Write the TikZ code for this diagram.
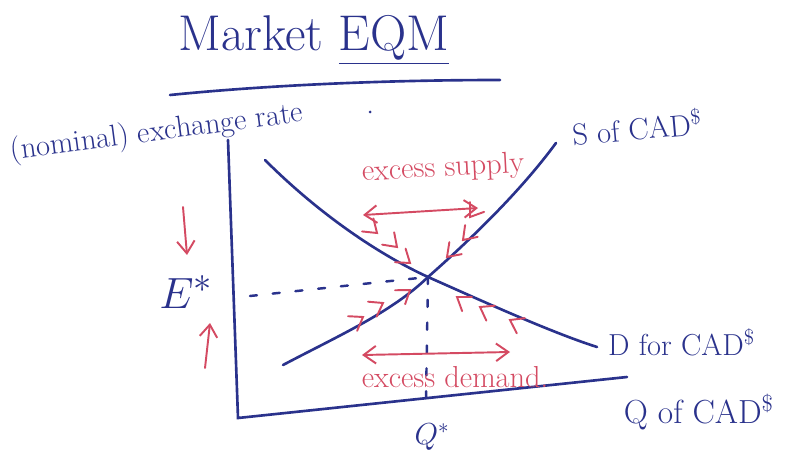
\documentclass[tikz,border=0pt]{standalone}
\usepackage{xcolor}
\usepackage{tikz}
\usetikzlibrary{arrows.meta}
\definecolor{pen}{RGB}{42,50,140}
\definecolor{redpen}{RGB}{212,74,98}

\begin{document}
\begin{tikzpicture}[x=0.02cm,y=-0.02cm,
  >={Straight Barb[length=7pt,width=10pt]},
  ink/.style={pen,line width=1.5pt,line cap=round},
  hint/.style={redpen,line width=1.1pt,line cap=round},
  guide/.style={pen,line width=1.4pt,line cap=round,dash pattern=on 4pt off 9pt},
  lbl/.style={pen,font=\LARGE}]
  \useasboundingbox (0,0) rectangle (801,466);
  % title
  \node[pen,font=\Huge,scale=1.15] (title) at (314,40) {Market \underline{EQM}};
  \draw[ink] (170,95) .. controls (280,84) and (400,80) .. (500,80);
  \fill[pen] (370,112) circle (1.5);
  % axes
  \coordinate (ytop) at (228,140);
  \coordinate (O) at (238,418);
  \coordinate (xend) at (627,377);
  \draw[ink] (ytop) -- (O) -- (xend);
  \node[lbl,rotate=7.5] (ylab) at (157,133) {(nominal) exchange rate};
  \node[lbl,scale=1.1,anchor=west] (xlab) at (617,412) {Q of CAD\textsuperscript{\$}};
  % curves
  \coordinate (eq) at (428,277);
  \coordinate (d0) at (265,160);
  \coordinate (d1) at (597,347);
  \coordinate (s0) at (283,365);
  \coordinate (s1) at (556,143);
  \draw[ink] (d0) .. controls (320,215) and (380,255) .. (eq)
    .. controls (480,300) and (550,332) .. (d1);
  \draw[ink] (s0) .. controls (340,335) and (392,312) .. (eq)
    .. controls (470,240) and (520,192) .. (s1);
  \node[lbl,rotate=5,anchor=west] (slab) at (566,133) {S of CAD\textsuperscript{\$}};
  \node[lbl,anchor=west] (dlab) at (602,342) {D for CAD\textsuperscript{\$}};
  % equilibrium values
  \node[pen,font=\Huge] (estar) at (186,292) {$E^{*}$};
  \node[pen,font=\LARGE] (qstar) at (432,437) {$Q^{*}$};
  \coordinate (eaxis) at (250,296);
  \coordinate (qaxis) at (426,400);
  \draw[guide] (eaxis) -- (eq);
  \draw[guide] (eq) -- (qaxis);
  % excess supply and demand
  \node[redpen,font=\LARGE,rotate=3] (exsup) at (443,169) {excess supply};
  \node[redpen,font=\LARGE] (exdem) at (455,377) {excess demand.};
  \coordinate (sl) at (363,215);
  \coordinate (sr) at (478,208);
  \coordinate (dl) at (362,355);
  \coordinate (dr) at (510,352);
  \draw[hint,<->] (sl) -- (sr);
  \draw[hint,<->] (dl) -- (dr);
  % pressure towards the equilibrium
  \foreach \px/\py/\a in {377/233/41, 397/247/44, 410/263/38,
      470/217/125, 463/240/133, 447/257/134,
      363/317/-32, 383/303/-30, 410/290/-36,
      457/297/-145, 480/307/-150, 510/320/-152}
    \draw[hint] (\px,\py) ++(\a+145:15) -- (\px,\py) -- ++(\a-145:15);
  \coordinate (dn0) at (183,207);
  \coordinate (dn1) at (187,255);
  \coordinate (up0) at (205,368);
  \coordinate (up1) at (210,323);
  \draw[hint,->] (dn0) -- (dn1);
  \draw[hint,->] (up0) -- (up1);
\end{tikzpicture}
\end{document}
